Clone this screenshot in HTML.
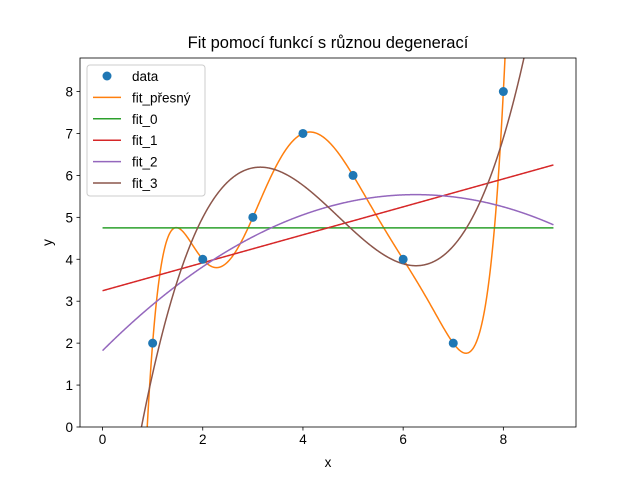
<!DOCTYPE html>
<html><head><meta charset="utf-8"><style>
html,body{margin:0;padding:0;background:#fff;width:640px;height:480px;overflow:hidden}
svg{display:block;font-family:"Liberation Sans","DejaVu Sans",sans-serif}
</style></head><body>
<svg id="chart" width="640" height="480"></svg>
<script>
const xData=[1,2,3,4,5,6,7,8];
const yData=[2,4,5,7,6,4,2,8];
const xTicks=[0,2,4,6,8];
const yTicks=[0,1,2,3,4,5,6,7,8];
const seriesNames=["fit_přesný","fit_0","fit_1","fit_2","fit_3"];
const seriesDegrees=[7,0,1,2,3];
const seriesColors=["#ff7f0e","#2ca02c","#d62728","#9467bd","#8c564b"];

const L=80,R=576,T=58,B=427;
const xMin=-0.45,xMax=9.45,yMin=0,yMax=8.8;
const sx=v=>L+(v-xMin)/(xMax-xMin)*(R-L);
const sy=v=>B-(v-yMin)/(yMax-yMin)*(B-T);
const NS="http://www.w3.org/2000/svg";
const svg=document.getElementById('chart');
function el(t,a,p){const e=document.createElementNS(NS,t);for(const k in a)e.setAttribute(k,a[k]);(p||svg).appendChild(e);return e;}

function polyfit(xs,ys,d){
  const c=4.5,n=d+1;const A=[],b=[];
  for(let i=0;i<n;i++){A.push(new Array(n).fill(0));b.push(0);}
  xs.forEach((x,k)=>{const u=x-c;for(let i=0;i<n;i++){b[i]+=Math.pow(u,i)*ys[k];for(let j=0;j<n;j++)A[i][j]+=Math.pow(u,i+j);}});
  for(let i=0;i<n;i++){let p=i;for(let r=i+1;r<n;r++)if(Math.abs(A[r][i])>Math.abs(A[p][i]))p=r;
    [A[i],A[p]]=[A[p],A[i]];[b[i],b[p]]=[b[p],b[i]];
    for(let r=i+1;r<n;r++){const f=A[r][i]/A[i][i];for(let j=i;j<n;j++)A[r][j]-=f*A[i][j];b[r]-=f*b[i];}}
  const co=new Array(n).fill(0);
  for(let i=n-1;i>=0;i--){let s=b[i];for(let j=i+1;j<n;j++)s-=A[i][j]*co[j];co[i]=s/A[i][i];}
  return x=>{const u=x-c;let s=0;for(let i=n-1;i>=0;i--)s=s*u+co[i];return s;};
}

const defs=el('defs',{});
const cp=el('clipPath',{id:'clip'},defs);
el('rect',{x:L,y:T,width:R-L,height:B-T},cp);

const g=el('g',{'clip-path':'url(#clip)'});
seriesDegrees.forEach((d,i)=>{
  const f=polyfit(xData,yData,d);let pts=[];
  for(let k=0;k<=900;k++){const x=k*9/900;let y=f(x);y=Math.max(yMin-0.5,Math.min(yMax+0.5,y));pts.push(sx(x).toFixed(2)+','+sy(y).toFixed(2));}
  const p=el('polyline',{points:pts.join(' '),fill:'none',stroke:seriesColors[i],'stroke-width':1.5},g);
  
  
});
xData.forEach((x,i)=>{
  const c=el('circle',{cx:sx(x),cy:sy(yData[i]),r:4.5,fill:'#1f77b4'},g);
  
  
});

const frame=el('rect',{x:L,y:T,width:R-L,height:B-T,fill:'none',stroke:'#000','stroke-width':0.8});



xTicks.forEach(v=>{
  el('line',{x1:sx(v),x2:sx(v),y1:B,y2:B+3.5,stroke:'#000','stroke-width':0.8});
  const t=el('text',{x:sx(v),y:B+17,'text-anchor':'middle','font-size':13.5});t.textContent=v;
  
  
});
yTicks.forEach(v=>{
  el('line',{x1:L-3.5,x2:L,y1:sy(v),y2:sy(v),stroke:'#000','stroke-width':0.8});
  const t=el('text',{x:L-7,y:sy(v)+5,'text-anchor':'end','font-size':13.5});t.textContent=v;
  
  
});
let t=el('text',{x:(L+R)/2,y:B+40,'text-anchor':'middle','font-size':13.5});t.textContent='x';

t=el('text',{x:0,y:0,'text-anchor':'middle','font-size':13.5,transform:`translate(52,${(T+B)/2}) rotate(-90)`});t.textContent='y';

t=el('text',{x:(L+R)/2,y:T-10,'text-anchor':'middle','font-size':16.5});t.textContent='Fit pomocí funkcí s různou degenerací';


const lg=el('g',{});


el('rect',{x:87,y:65,width:118,height:131,rx:3,fill:'#fff','fill-opacity':0.8,stroke:'#ccc','stroke-width':1},lg);
const labels=['data'].concat(seriesNames);
labels.forEach((n,i)=>{
  const y=76+i*21.4;
  if(i===0) el('circle',{cx:107,cy:y,r:4.5,fill:'#1f77b4'},lg);
  else el('line',{x1:93,x2:121,y1:y,y2:y,stroke:seriesColors[i-1],'stroke-width':1.5},lg);
  const tx=el('text',{x:132,y:y+5,'font-size':13.5},lg);tx.textContent=n;
  
  
});
</script>
</body></html>
